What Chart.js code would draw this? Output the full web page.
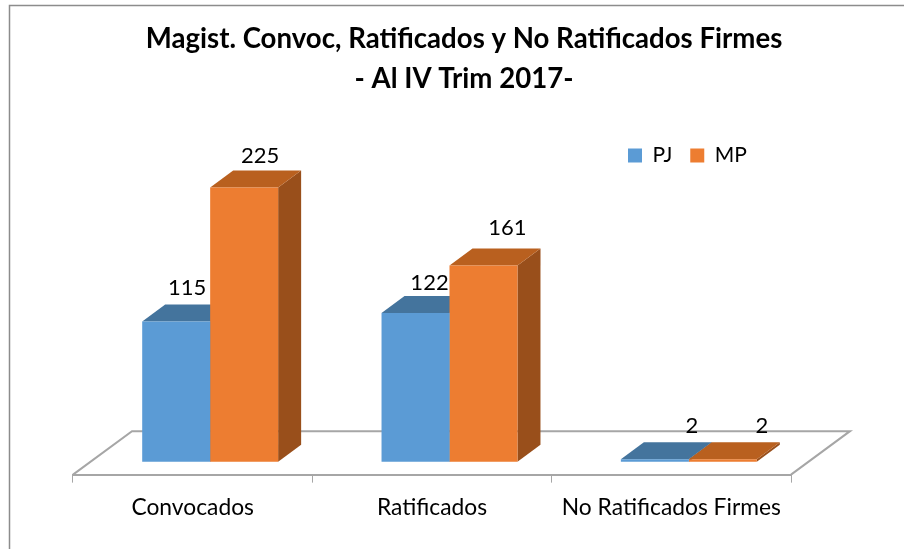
<!DOCTYPE html>
<html><head><meta charset="utf-8">
<style>html,body{margin:0;padding:0;background:#fff;overflow:hidden}#w{position:relative;width:904px;height:549px}</style>
<script src="https://cdn.jsdelivr.net/npm/chart.js@4"></script>
</head><body><div id="w"><canvas id="c" width="904" height="549"></canvas></div>
<script>
const categories = ['Convocados', 'Ratificados', 'No Ratificados Firmes'];
const seriesPJ = [115, 122, 2];
const seriesMP = [225, 161, 2];
const titleLines = ['Magist. Convoc, Ratificados y No Ratificados Firmes', '- Al IV Trim 2017-'];

// Styling and 3D projection constants
const FONT = 'Lato';
const PALETTE = {
  PJ: {front:'#5B9BD5', top:'#44749D', side:'#3A6389'},
  MP: {front:'#ED7D31', top:'#B9601F', side:'#994F1B'}
};
const BAR_DEPTH = {x:23, y:-17};
const FLOOR_DEPTH = {x:59, y:-43.5};
const BAR_SHIFT = 17.5;
const LABEL_NUDGE = [
  [{x:11,y:-34},{x:14,y:-30},{x:37,y:-33}],
  [{x:16,y:-32},{x:24,y:-38},{x:39,y:-33}]
];

const scene3d = {
  id:'scene3d',
  afterLayout(chart){
    const t = chart.titleBlock; t.left += 32; t.right += 32;
    const l = chart.legend;
    const w = l.right - l.left, h = l.bottom - l.top;
    l.left = 610; l.right = 610 + w; l.top = 127; l.bottom = 127 + h;
  },
  beforeDraw(chart){
    const c = chart.ctx;
    c.save();
    c.strokeStyle = '#8c8c8c'; c.lineWidth = 1.5;
    c.strokeRect(9.5, 5.5, 1000, 1000);
    c.restore();
  },
  beforeDatasetsDraw(chart){
    const c = chart.ctx, a = chart.chartArea;
    c.save();
    c.strokeStyle = '#a6a6a6'; c.lineWidth = 2;
    c.beginPath();
    c.moveTo(a.left, a.bottom);
    c.lineTo(a.left + FLOOR_DEPTH.x, a.bottom + FLOOR_DEPTH.y);
    c.lineTo(a.right + FLOOR_DEPTH.x, a.bottom + FLOOR_DEPTH.y);
    c.lineTo(a.right, a.bottom);
    c.stroke();
    c.translate(BAR_SHIFT, 0);
    chart.data.datasets.forEach((ds, di) => {
      const pal = PALETTE[ds.label];
      chart.getDatasetMeta(di).data.forEach(b => {
        const L = b.x - b.width/2, R = b.x + b.width/2, T = b.y, B = b.base;
        c.fillStyle = pal.side;
        c.beginPath();
        c.moveTo(R, T); c.lineTo(R + BAR_DEPTH.x, T + BAR_DEPTH.y);
        c.lineTo(R + BAR_DEPTH.x, B + BAR_DEPTH.y); c.lineTo(R, B);
        c.closePath(); c.fill();
        c.fillStyle = pal.top;
        c.beginPath();
        c.moveTo(L, T); c.lineTo(L + BAR_DEPTH.x, T + BAR_DEPTH.y);
        c.lineTo(R + BAR_DEPTH.x, T + BAR_DEPTH.y); c.lineTo(R, T);
        c.closePath(); c.fill();
      });
    });
  },
  afterDatasetsDraw(chart){
    const c = chart.ctx;
    c.restore();
    c.save();
    c.fillStyle = '#000';
    c.font = '22px ' + FONT;
    c.textAlign = 'center'; c.textBaseline = 'middle';
    chart.data.datasets.forEach((ds, di) => {
      chart.getDatasetMeta(di).data.forEach((b, i) => {
        const n = LABEL_NUDGE[di][i];
        c.fillText(String(ds.data[i]), b.x + BAR_SHIFT + n.x, b.y + n.y);
      });
    });
    c.restore();
  }
};

new Chart(document.getElementById('c'), {
  type:'bar',
  data:{
    labels:categories,
    datasets:[
      {label:'PJ', data:seriesPJ, backgroundColor:PALETTE.PJ.front, borderWidth:0},
      {label:'MP', data:seriesMP, backgroundColor:PALETTE.MP.front, borderWidth:0}
    ]
  },
  options:{
    responsive:false, animation:false,
    layout:{padding:{left:73, right:113, top:0, bottom:17}},
    datasets:{bar:{barPercentage:1, categoryPercentage:0.568}},
    plugins:{
      title:{display:true, text:titleLines, color:'#000',
        font:{family:FONT, size:27.6, weight:'bold', lineHeight:1.45},
        padding:{top:19.5, bottom:8.5}},
      legend:{display:true, position:'top', align:'start',
        labels:{color:'#000', boxWidth:14, boxHeight:14, padding:18,
          font:{family:FONT, size:21}}},
      tooltip:{enabled:false}
    },
    scales:{
      x:{
        offset:true,
        border:{display:true, color:'#a6a6a6', width:2},
        grid:{display:true, drawOnChartArea:false, drawTicks:true, tickLength:8, color:'#a6a6a6'},
        ticks:{color:'#000', padding:11, maxRotation:0, autoSkip:false, font:{family:FONT, size:22.8}}
      },
      y:{display:false, min:-10.6, max:250}
    }
  },
  plugins:[scene3d]
});
</script></body></html>
